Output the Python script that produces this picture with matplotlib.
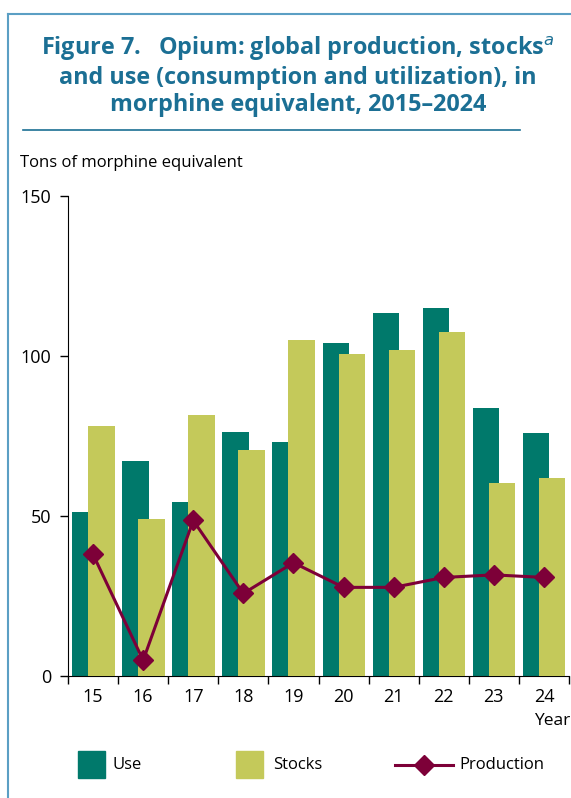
import matplotlib.pyplot as plt
from matplotlib.patches import Rectangle
from matplotlib.lines import Line2D
import numpy as np

# Data
years = ['15', '16', '17', '18', '19', '20', '21', '22', '23', '24']
use = [51.2, 67.1, 54.3, 76.2, 73.2, 104.0, 113.5, 115.0, 83.8, 75.8]
stocks = [78.1, 49.0, 81.6, 70.6, 105.0, 100.6, 102.0, 107.4, 60.3, 61.8]
production = [38.0, 4.9, 48.6, 25.8, 35.4, 27.7, 27.7, 30.8, 31.6, 30.8]

c_use = '#00796b'
c_stocks = '#c4c95a'
c_prod = '#7d0038'
c_title = '#1b6f94'
c_frame = '#5b9fc4'

plt.rcParams['font.family'] = ['Open Sans', 'DejaVu Sans']

fig = plt.figure(figsize=(5.71, 7.98), dpi=100)
W, H = 571, 798

# frame and title rule
fig.add_artist(Line2D([8 / W, 8 / W], [0, 1 - 14 / H], color=c_frame, lw=1.5, transform=fig.transFigure))
fig.add_artist(Line2D([8 / W, 1], [1 - 14 / H, 1 - 14 / H], color=c_frame, lw=1.5, transform=fig.transFigure))
fig.add_artist(Line2D([23 / W, 520 / W], [1 - 130 / H, 1 - 130 / H], color=c_title, lw=1.2, transform=fig.transFigure))

fig.text(298 / W, 1 - 76 / H,
         'Figure 7.   Opium: global production, stocks$^{a}$\n'
         'and use (consumption and utilization), in\n'
         'morphine equivalent, 2015\u20132024',
         ha='center', va='center', fontsize=16.8, fontweight='bold',
         color=c_title, linespacing=1.18)

ax = fig.add_axes([68 / W, 1 - 676 / H, (569 - 68) / W, (676 - 196) / H])
x = np.arange(len(years))
w = 0.53
ax.bar(x - 0.155, use, width=w, color=c_use, zorder=2)
ax.bar(x + 0.165, stocks, width=w, color=c_stocks, zorder=3)
ax.plot(x, production, color=c_prod, lw=2.2, marker='D', markersize=10, zorder=4)

ax.set_xlim(-0.5, len(years) - 0.5)
ax.set_ylim(0, 150)
ax.set_yticks([0, 50, 100, 150])
ax.set_xticks(x)
ax.set_xticklabels(years)
ax.set_xticks(np.arange(-0.5, len(years)), minor=True)
ax.tick_params(axis='x', which='major', length=0, labelsize=13, pad=9)
ax.tick_params(axis='x', which='minor', length=6, width=1)
ax.tick_params(axis='y', length=6, width=1, labelsize=13, pad=6)
for s in ['top', 'right']:
    ax.spines[s].set_visible(False)

fig.text(20 / W, 1 - 163 / H, 'Tons of morphine equivalent', fontsize=12, va='center', ha='left')
fig.text(570 / W, 1 - 721 / H, 'Year', fontsize=12.5, va='center', ha='right')

# legend
ly = 1 - 765 / H
sq = 27
fig.add_artist(Rectangle((78 / W, 1 - 778 / H), sq / W, sq / H, color=c_use, transform=fig.transFigure))
fig.text(113 / W, ly, 'Use', fontsize=12, va='center')
fig.add_artist(Rectangle((236 / W, 1 - 778 / H), sq / W, sq / H, color=c_stocks, transform=fig.transFigure))
fig.text(273 / W, ly, 'Stocks', fontsize=12, va='center')
fig.add_artist(Line2D([395 / W, 453 / W], [ly, ly], color=c_prod, lw=2.2, transform=fig.transFigure))
fig.add_artist(Line2D([424 / W], [ly], color=c_prod, marker='D', markersize=10, transform=fig.transFigure))
fig.text(459 / W, ly, 'Production', fontsize=12, va='center')

fig.savefig('out.png', dpi=100)
